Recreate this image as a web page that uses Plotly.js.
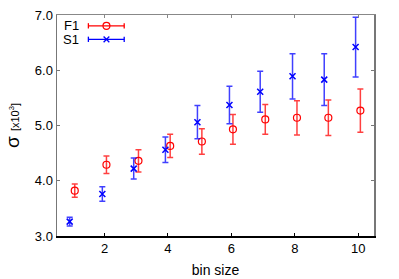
<!DOCTYPE html>
<html>
<head>
<meta charset="utf-8">
<script src="https://cdn.plot.ly/plotly-3.0.1.min.js"></script>
<style>html,body{margin:0;padding:0;background:#fff;}#chart{width:399px;height:279px;}</style>
</head>
<body>
<div id="chart"></div>
<script>
// Data (sigma in units of 10^3)
const f1X = [1.06, 2.06, 3.07, 4.07, 5.07, 6.05, 7.07, 8.07, 9.06, 10.07];
const f1Y = [3.82, 4.29, 4.36, 4.63, 4.71, 4.93, 5.11, 5.14, 5.14, 5.27];
const f1Err = [0.12, 0.16, 0.20, 0.21, 0.23, 0.27, 0.27, 0.31, 0.32, 0.39];
const s1X = [0.90, 1.93, 2.92, 3.92, 4.93, 5.94, 6.91, 7.93, 8.93, 9.92];
const s1Y = [3.26, 3.76, 4.22, 4.56, 5.06, 5.37, 5.61, 5.89, 5.83, 6.42];
const s1Err = [0.08, 0.13, 0.19, 0.23, 0.30, 0.34, 0.37, 0.41, 0.47, 0.54];
const xTicks = [2, 4, 6, 8, 10];
const yTicks = [3.0, 4.0, 5.0, 6.0, 7.0];
const legendNames = ['F1', 'S1'];

const red = '#ff0000', blue = '#0000ff';
const font = {family: 'Liberation Sans, Arial, sans-serif', size: 13, color: '#000'};

const traces = [
  {x: f1X, y: f1Y, type: 'scatter', mode: 'markers', name: legendNames[0],
   marker: {symbol: 'circle-open', size: 7, color: red, line: {width: 1.2, color: red}},
   error_y: {type: 'data', array: f1Err, visible: true, color: 'rgba(255,0,0,0.75)', thickness: 1.5, width: 3},
   showlegend: false, cliponaxis: false},
  {x: s1X, y: s1Y, type: 'scatter', mode: 'markers', name: legendNames[1],
   marker: {symbol: 'x-thin-open', size: 6, color: blue, line: {width: 1.5, color: blue}},
   error_y: {type: 'data', array: s1Err, visible: true, color: 'rgba(0,0,255,0.75)', thickness: 1.5, width: 3},
   showlegend: false, cliponaxis: false},
  {x: [null], y: [null], xaxis: 'x2', type: 'scatter', showlegend: false, hoverinfo: 'skip'}
];

// Legend drawn gnuplot-style (text first, then sample) with shapes in paper coords
const shapes = [];
const annotations = [];
const legY = [0.951, 0.890];
const colors = [red, blue];
const L0 = 0.099, L1 = 0.212, Lm = 0.156;
legendNames.forEach((n, i) => {
  const c = colors[i], y = legY[i];
  annotations.push({xref: 'paper', yref: 'paper', x: 0.075, y: y, text: n, showarrow: false,
    xanchor: 'right', yanchor: 'middle', font: {family: font.family, size: 13, color: '#000'}});
  shapes.push({type: 'line', xref: 'paper', yref: 'paper', x0: L0, x1: L1, y0: y, y1: y, line: {color: c, width: 1.3}});
  [L0, L1].forEach(xx => shapes.push({type: 'line', xref: 'paper', yref: 'paper', x0: xx, x1: xx, y0: y - 0.012, y1: y + 0.012, line: {color: c, width: 1.3}}));
  if (i === 0) {
    shapes.push({type: 'circle', xref: 'paper', yref: 'paper', x0: Lm - 0.011, x1: Lm + 0.011, y0: y - 0.016, y1: y + 0.016, line: {color: c, width: 1.2}});
  } else {
    shapes.push({type: 'line', xref: 'paper', yref: 'paper', x0: Lm - 0.009, x1: Lm + 0.009, y0: y - 0.013, y1: y + 0.013, line: {color: c, width: 1.3}});
    shapes.push({type: 'line', xref: 'paper', yref: 'paper', x0: Lm - 0.009, x1: Lm + 0.009, y0: y + 0.013, y1: y - 0.013, line: {color: c, width: 1.3}});
  }
});

const layout = {
  width: 399, height: 279,
  margin: {l: 57, r: 25, t: 15, b: 43},
  paper_bgcolor: '#fff', plot_bgcolor: '#fff',
  font: font,
  showlegend: false,
  xaxis: {range: [0.5, 10.5], tickvals: xTicks, ticktext: xTicks.map(String),
    ticks: 'inside', ticklen: 3, tickcolor: '#000', showline: true, linecolor: '#000', linewidth: 1.5,
    showgrid: false, zeroline: false, tickfont: {size: 13},
    title: {text: 'bin size', font: {size: 14}, standoff: 10}},
  xaxis2: {overlaying: 'x', side: 'top', matches: 'x', range: [0.5, 10.5], tickvals: xTicks,
    showticklabels: false, ticks: 'inside', ticklen: 3, tickcolor: '#888',
    showline: true, linecolor: '#888', linewidth: 1.5, showgrid: false, zeroline: false},
  yaxis: {range: [3.0, 7.0], tickvals: yTicks, ticktext: yTicks.map(v => v.toFixed(1)),
    ticks: 'inside', ticklen: 3, tickcolor: '#777', showline: true, linecolor: '#777', linewidth: 1.5,
    mirror: 'ticks', showgrid: false, zeroline: false, tickfont: {size: 13},
    title: {text: 'σ <span style="font-size:11px">[x10<sup>3</sup>]</span>', font: {size: 19}, standoff: 10}},
  shapes: shapes,
  annotations: annotations
};

Plotly.newPlot('chart', traces, layout, {displayModeBar: false, staticPlot: true});
</script>
</body>
</html>
